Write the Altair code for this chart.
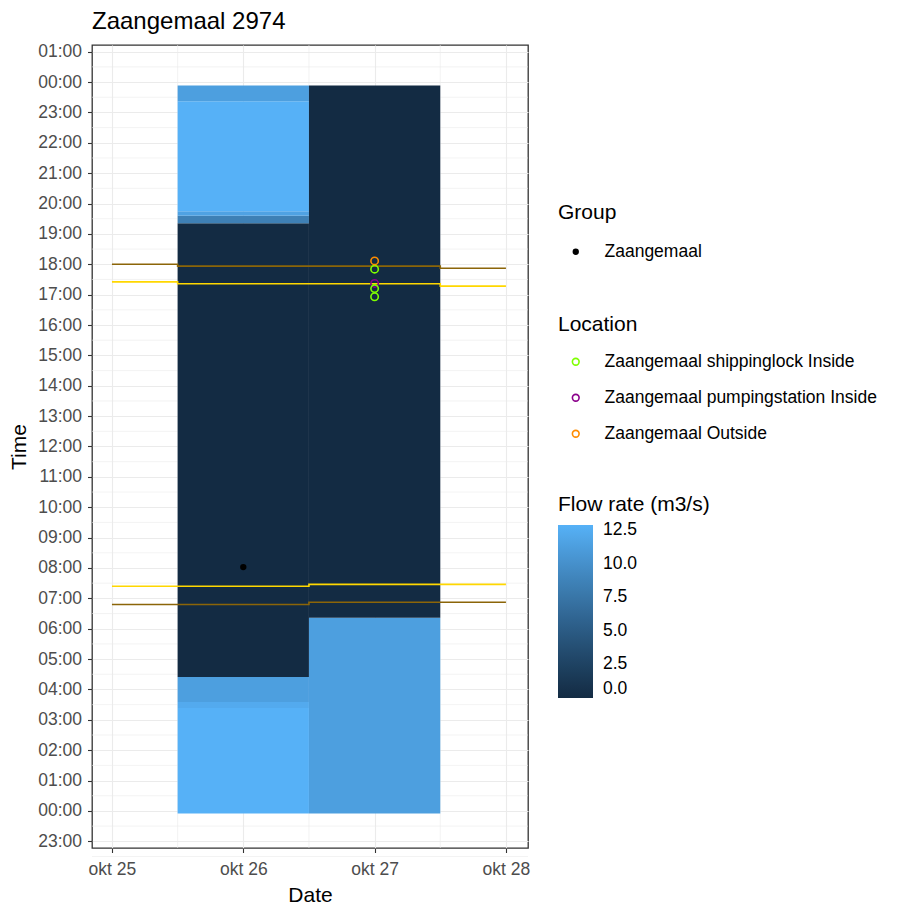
import altair as alt
import pandas as pd

FONT = "Liberation Sans"

# ---------------- data ----------------
# flow-rate tiles: column (day) start/end, time start/end (hours), flow (m3/s)
tile_day_start = [25.5, 25.5, 25.5, 25.5, 25.5, 25.5, 25.5, 25.5, 26.5, 26.5]
tile_day_end   = [26.5, 26.5, 26.5, 26.5, 26.5, 26.5, 26.5, 26.5, 27.5, 27.5]
tile_t_start   = [-0.08, 3.39, 3.59, 4.41, 19.35, 19.60, 19.75, 23.37, -0.08, 6.36]
tile_t_end     = [3.39, 3.59, 4.41, 19.35, 19.60, 19.75, 23.37, 23.89, 6.36, 23.89]
tile_flow      = [12.9, 12.3, 11.3, 0.0, 8.5, 11.6, 12.9, 11.3, 11.3, 0.0]

# daylight lines (hours) per day
line_days  = [25, 26, 27, 28]
dawn_civil = [6.80, 6.80, 6.87, 6.87]
sunrise    = [7.40, 7.40, 7.46, 7.46]
sunset     = [17.42, 17.36, 17.36, 17.28]
dusk_civil = [18.00, 17.94, 17.94, 17.87]

# group point
group_names = ["Zaangemaal"]
group_days  = [26]
group_times = [8.03]

# location points
loc_names = ["Zaangemaal shippinglock Inside", "Zaangemaal pumpingstation Inside",
             "Zaangemaal Outside"]
loc_colors = ["#7FFF00", "#8B008B", "#FF8C00"]
loc_point_names = ["Zaangemaal shippinglock Inside", "Zaangemaal Outside",
                   "Zaangemaal pumpingstation Inside", "Zaangemaal shippinglock Inside",
                   "Zaangemaal shippinglock Inside"]
loc_point_days  = [27, 27, 27, 27, 27]
loc_point_times = [17.84, 18.11, 17.37, 17.20, 16.93]

# axis ticks
x_ticks = [25, 26, 27, 28]
x_minor = [25.5, 26.5, 27.5]
y_ticks = list(range(-1, 26))
y_minor = [h + 0.5 for h in range(-2, 25)]
flow_ticks = [0.0, 2.5, 5.0, 7.5, 10.0, 12.5]

# ---------------- frames ----------------
tiles = pd.DataFrame({"d0": tile_day_start, "d1": tile_day_end,
                      "t0": tile_t_start, "t1": tile_t_end, "flow": tile_flow})
brown = pd.DataFrame({"day": line_days * 2, "t": dawn_civil + dusk_civil,
                      "series": ["dawn"] * 4 + ["dusk"] * 4})
gold = pd.DataFrame({"day": line_days * 2, "t": sunrise + sunset,
                     "series": ["rise"] * 4 + ["set"] * 4})
grp = pd.DataFrame({"day": group_days, "t": group_times, "Group": group_names})
locs = pd.DataFrame({"day": loc_point_days, "t": loc_point_times, "Location": loc_point_names})
xm = pd.DataFrame({"v": x_minor})
ym = pd.DataFrame({"v": y_minor})

xscale = alt.Scale(domain=[24.848, 28.168], nice=False, zero=False)
yscale = alt.Scale(domain=[-1.22, 25.22], nice=False, zero=False)

xaxis = alt.Axis(values=x_ticks, labelExpr="'okt ' + datum.value", grid=True,
                 title="Date")
yaxis = alt.Axis(values=y_ticks, grid=True, title="Time",
                 labelExpr="((datum.value % 24 + 24) % 24 < 10 ? '0' : '') + ((datum.value % 24 + 24) % 24) + ':00'")

minor_x = alt.Chart(xm).mark_rule(color="#EBEBEB", strokeWidth=0.6).encode(
    x=alt.X("v:Q", scale=xscale, axis=xaxis))
minor_y = alt.Chart(ym).mark_rule(color="#EBEBEB", strokeWidth=0.6).encode(
    y=alt.Y("v:Q", scale=yscale, axis=yaxis))

rects = alt.Chart(tiles).mark_rect(strokeWidth=0).encode(
    x=alt.X("d0:Q", scale=xscale, axis=xaxis),
    x2="d1:Q",
    y=alt.Y("t0:Q", scale=yscale, axis=yaxis),
    y2="t1:Q",
    color=alt.Color("flow:Q",
                    scale=alt.Scale(domain=[0, 12.9], range=["#132B43", "#56B1F7"],
                                    interpolate="lab"),
                    legend=alt.Legend(title="Flow rate (m3/s)", orient="none",
                                      direction="vertical", legendX=466, legendY=449,
                                      values=flow_ticks, format=".1f",
                                      gradientLength=173, gradientThickness=35,
                                      gradientStrokeWidth=0, labelOffset=10,
                                      titlePadding=10)))

brown_lines = alt.Chart(brown).mark_line(interpolate="step", color="#8B6508",
                                         strokeWidth=1.6).encode(
    x=alt.X("day:Q", scale=xscale, axis=xaxis),
    y=alt.Y("t:Q", scale=yscale, axis=yaxis),
    detail="series:N")
gold_lines = alt.Chart(gold).mark_line(interpolate="step", color="#FFD700",
                                       strokeWidth=1.6).encode(
    x=alt.X("day:Q", scale=xscale, axis=xaxis),
    y=alt.Y("t:Q", scale=yscale, axis=yaxis),
    detail="series:N")

grp_pts = alt.Chart(grp).mark_point(filled=True, color="black", size=40, opacity=1).encode(
    x=alt.X("day:Q", scale=xscale, axis=xaxis),
    y=alt.Y("t:Q", scale=yscale, axis=yaxis),
    shape=alt.Shape("Group:N", scale=alt.Scale(range=["circle"]),
                    legend=alt.Legend(title="Group", orient="none", legendX=466,
                                      legendY=157, symbolFillColor="black",
                                      symbolStrokeColor="black", symbolSize=40,
                                      symbolOffset=9, labelOffset=20,
                                      titlePadding=20, labelLimit=0)))

loc_pts = alt.Chart(locs).mark_point(filled=False, size=55, strokeWidth=1.6, opacity=1).encode(
    x=alt.X("day:Q", scale=xscale, axis=xaxis),
    y=alt.Y("t:Q", scale=yscale, axis=yaxis),
    stroke=alt.Stroke("Location:N", scale=alt.Scale(domain=loc_names, range=loc_colors),
                      legend=alt.Legend(title="Location", orient="none", legendX=466,
                                        legendY=269, symbolType="circle", symbolSize=45,
                                        symbolStrokeWidth=1.6, symbolFillColor="transparent",
                                        symbolOffset=9, labelOffset=20, rowPadding=17,
                                        titlePadding=18, labelLimit=0)))

chart = alt.layer(minor_x, minor_y, rects, brown_lines, gold_lines, grp_pts, loc_pts).properties(
    width=436, height=803,
    title=alt.Title("Zaangemaal 2974", anchor="start", frame="group", fontSize=24,
                    font=FONT, fontWeight="normal", color="black", offset=9),
    padding={"left": 0, "top": 1, "right": 5, "bottom": 1},
).configure_view(
    stroke="#333333", strokeWidth=1.3
).configure_axis(
    labelFont=FONT, labelFontSize=17.5, labelColor="#4D4D4D",
    titleFont=FONT, titleFontSize=21, titleFontWeight="normal", titleColor="black",
    gridColor="#EBEBEB", gridWidth=1.1, domain=False,
    tickColor="#333333", tickSize=4.5, tickWidth=1.1, labelPadding=3,
).configure_axisY(titlePadding=8, labelPadding=6
).configure_axisX(titlePadding=6, labelPadding=8
).configure_legend(
    labelFont=FONT, labelFontSize=17.5, labelColor="black",
    titleFont=FONT, titleFontSize=21, titleFontWeight="normal", titleColor="black",
    padding=0
)

chart.save("out.html", embed_options={"renderer": "svg", "actions": False})
